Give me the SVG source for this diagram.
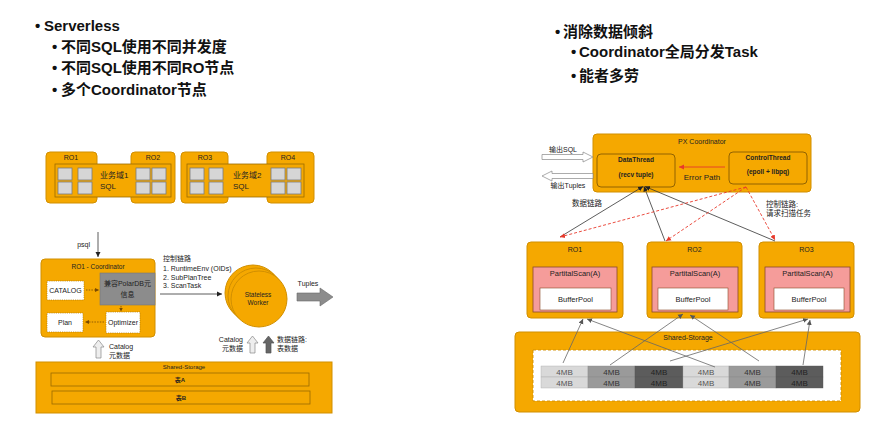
<svg xmlns="http://www.w3.org/2000/svg" width="880" height="439" viewBox="0 0 880 439">
<defs>
<style>
.t{font-family:"Liberation Sans","Noto Sans CJK SC",sans-serif;fill:#222}
.h{font-family:"Liberation Sans","Noto Sans CJK SC",sans-serif;font-weight:bold;font-size:15px;fill:#111}
.org{fill:#F5A800;stroke:#D18F00;stroke-width:1}
.band{fill:#F5A800;stroke:#9A6A00;stroke-width:0.8}
.sq{fill:#d6d6d6;stroke:#7a7a7a;stroke-width:0.8}
.wbox{fill:#fff;stroke:#b07a00;stroke-width:0.7;stroke-dasharray:1.2,1}
.dot{stroke:#7a4a00;stroke-width:0.8;stroke-dasharray:1.5,1.2;fill:none}
.blk{stroke:#333;stroke-width:0.8;fill:none}
.red{stroke:#e8392b;stroke-width:0.9;stroke-dasharray:3,2;fill:none}
.gry{stroke:#666;stroke-width:0.8;fill:none}
.pink{fill:#F59C9A;stroke:#8a4a2a;stroke-width:0.8}
.bp{fill:#fff;stroke:#8a4a2a;stroke-width:0.6}
.c{text-anchor:middle}
</style>
<marker id="ab" markerWidth="6" markerHeight="6" refX="5" refY="3" orient="auto" markerUnits="userSpaceOnUse"><path d="M0,0.5 L5,3 L0,5.5 z" fill="#222"/></marker>
<marker id="ad" markerWidth="5" markerHeight="5" refX="4" refY="2.5" orient="auto" markerUnits="userSpaceOnUse"><path d="M0,0.5 L4,2.5 L0,4.5 z" fill="#7a4a00"/></marker>
<marker id="ar" markerWidth="6" markerHeight="6" refX="5" refY="3" orient="auto" markerUnits="userSpaceOnUse"><path d="M0,0.5 L5,3 L0,5.5 z" fill="#e8392b"/></marker>
<marker id="ag" markerWidth="6" markerHeight="6" refX="5" refY="3" orient="auto" markerUnits="userSpaceOnUse"><path d="M0,0.5 L5,3 L0,5.5 z" fill="#555"/></marker>
</defs>
<rect width="880" height="439" fill="#fff"/>

<!-- Titles -->
<g id="title-left">
<text class="h"><tspan x="35" y="31">•</tspan><tspan x="44" y="31">Serverless</tspan></text>
<text class="h"><tspan x="52" y="52">•</tspan><tspan x="61" y="52">不同SQL使用不同并发度</tspan></text>
<text class="h"><tspan x="52" y="73">•</tspan><tspan x="61" y="73">不同SQL使用不同RO节点</tspan></text>
<text class="h"><tspan x="52" y="95">•</tspan><tspan x="61" y="95">多个Coordinator节点</tspan></text>
</g>
<g id="title-right">
<text class="h"><tspan x="555" y="37">•</tspan><tspan x="563" y="37">消除数据倾斜</tspan></text>
<text class="h"><tspan x="571" y="57">•</tspan><tspan x="579" y="57">Coordinator全局分发Task</tspan></text>
<text class="h"><tspan x="571" y="81">•</tspan><tspan x="579" y="81">能者多劳</tspan></text>
</g>

<!-- Left: RO domains -->
<g id="domain1">
<rect class="org" x="46" y="152" width="51" height="51" rx="4"/>
<rect class="org" x="131" y="152" width="44" height="51" rx="4"/>
<rect class="band" x="55" y="164" width="116" height="33"/>
<text class="t c" x="71" y="159.5" font-size="7">RO1</text>
<text class="t c" x="153" y="159.5" font-size="7">RO2</text>
<rect class="sq" x="58" y="168" width="14" height="12"/><rect class="sq" x="78" y="168" width="14" height="12"/>
<rect class="sq" x="58" y="182" width="14" height="12"/><rect class="sq" x="78" y="182" width="14" height="12"/>
<rect class="sq" x="136" y="168" width="14" height="12"/><rect class="sq" x="152" y="168" width="14" height="12"/>
<rect class="sq" x="136" y="182" width="14" height="12"/><rect class="sq" x="152" y="182" width="14" height="12"/>
<text class="t" x="100" y="178" font-size="8">业务域1</text>
<text class="t" x="100" y="189" font-size="8">SQL</text>
</g>
<g id="domain2">
<rect class="org" x="181" y="152" width="47" height="51" rx="4"/>
<rect class="org" x="267" y="152" width="47" height="51" rx="4"/>
<rect class="band" x="187" y="164" width="117" height="33"/>
<text class="t c" x="205" y="159.5" font-size="7">RO3</text>
<text class="t c" x="288" y="159.5" font-size="7">RO4</text>
<rect class="sq" x="190" y="168" width="14" height="12"/><rect class="sq" x="209" y="168" width="14" height="12"/>
<rect class="sq" x="190" y="182" width="14" height="12"/><rect class="sq" x="209" y="182" width="14" height="12"/>
<rect class="sq" x="271" y="168" width="14" height="12"/><rect class="sq" x="287" y="168" width="14" height="12"/>
<rect class="sq" x="271" y="182" width="14" height="12"/><rect class="sq" x="287" y="182" width="14" height="12"/>
<text class="t" x="233" y="178" font-size="8">业务域2</text>
<text class="t" x="233" y="189" font-size="8">SQL</text>
</g>

<!-- Left: coordinator -->
<g id="ro1-coordinator">
<rect class="org" x="41" y="259" width="114" height="78" rx="4"/>
<text class="t c" x="98" y="268.5" font-size="6.5" fill="#5a2a00">RO1 - Coordinator</text>
<rect class="wbox" x="47" y="281" width="37" height="19"/>
<text class="t c" x="65.5" y="293" font-size="7">CATALOG</text>
<rect x="100" y="273" width="55" height="32" fill="#8c8c8c" stroke="#777" stroke-width="0.6"/>
<text class="t c" x="127.5" y="286" font-size="7">兼容PolarDB元</text>
<text class="t c" x="127.5" y="297" font-size="7">信息</text>
<rect class="wbox" x="106" y="312" width="34" height="21"/>
<text class="t c" x="123" y="325" font-size="7">Optimizer</text>
<rect class="wbox" x="47" y="313" width="36" height="19"/>
<text class="t c" x="65" y="325" font-size="7">Plan</text>
<line class="dot" x1="86" y1="290" x2="99" y2="290" marker-end="url(#ad)"/>
<line class="dot" x1="121" y1="306" x2="121" y2="311.5" marker-end="url(#ad)"/>
<line class="dot" x1="104" y1="322" x2="85" y2="322" marker-end="url(#ad)"/>
</g>

<g id="stateless-worker">
<circle cx="253" cy="293" r="28" class="org" stroke="#C88800"/>
<circle cx="256" cy="296" r="28" class="org" stroke="#C88800"/>
<circle cx="259" cy="299" r="28" class="org" stroke="#C88800"/>
<text class="t c" x="258" y="297" font-size="6.5" fill="#333">Stateless</text>
<text class="t c" x="258" y="305" font-size="6.5" fill="#333">Worker</text>
</g>

<g id="shared-storage-left">
<rect class="org" x="36" y="362" width="296" height="51"/>
<text class="t c" x="184" y="369" font-size="6">Shared-Storage</text>
<rect class="band" x="51" y="373" width="258" height="13"/>
<text class="t c" x="180" y="382" font-size="6" font-weight="bold">表A</text>
<rect class="band" x="52" y="391" width="258" height="13"/>
<text class="t c" x="181" y="400" font-size="6" font-weight="bold">表B</text>
</g>

<!-- Left connectors -->
<g id="left-connectors">
<line class="blk" x1="98" y1="232" x2="98" y2="257" stroke-width="1" marker-end="url(#ab)"/>
<text class="t" x="90" y="246.5" font-size="7" text-anchor="end">psql</text>
<line class="blk" x1="160" y1="294" x2="222" y2="294" stroke-width="1" marker-end="url(#ab)"/>
<text class="t" x="163" y="260.5" font-size="7">控制链路</text>
<text class="t" x="163" y="270.5" font-size="7">1.  RuntimeEnv (OIDs)</text>
<text class="t" x="163" y="279.5" font-size="7">2.  SubPlanTree</text>
<text class="t" x="163" y="287.5" font-size="7">3.  ScanTask</text>
<path d="M297,293 L320,293 L320,288 L333,297 L320,306 L320,301 L297,301 z" fill="#8c8c8c" stroke="#6a6a6a" stroke-width="0.6"/>
<text class="t c" x="308" y="286" font-size="7">Tuples</text>
<path d="M96,358 L96,347 L93,347 L98.5,340 L104,347 L101,347 L101,358 z" fill="#eee" stroke="#888" stroke-width="0.7"/>
<text class="t" x="109" y="349" font-size="7">Catalog</text>
<text class="t" x="109" y="357.5" font-size="7">元数据</text>
<path d="M250,353 L250,343 L247,343 L252.5,336 L258,343 L255,343 L255,353 z" fill="#eee" stroke="#888" stroke-width="0.7"/>
<path d="M266,353 L266,343 L263,343 L268.5,336 L274,343 L271,343 L271,353 z" fill="#666" stroke="#555" stroke-width="0.7"/>
<text class="t" x="243" y="341.5" font-size="7" text-anchor="end">Catalog</text>
<text class="t" x="243" y="350.5" font-size="7" text-anchor="end">元数据</text>
<text class="t" x="277" y="341.5" font-size="7">数据链路:</text>
<text class="t" x="277" y="350.5" font-size="7">表数据</text>
</g>

<!-- Right: PX coordinator -->
<g id="px-coordinator">
<rect class="org" x="593" y="134" width="218" height="58" rx="4"/>
<text class="t c" x="702" y="143.5" font-size="7">PX Coordinator</text>
</g>
<g id="data-thread">
<rect x="597" y="154" width="78" height="33" rx="4" fill="#F5A800" stroke="#7a5200" stroke-width="0.8"/>
<text class="t c" x="636" y="162" font-size="6.5" font-weight="bold">DataThread</text>
<text class="t c" x="636" y="177" font-size="6.5" font-weight="bold">(recv tuple)</text>
</g>
<g id="control-thread">
<rect x="729" y="152" width="78" height="32" rx="4" fill="#F5A800" stroke="#7a5200" stroke-width="0.8"/>
<text class="t c" x="768" y="159.5" font-size="6.5" font-weight="bold">ControlThread</text>
<text class="t c" x="768" y="174" font-size="6.5" font-weight="bold">(epoll + libpq)</text>
</g>

<g id="ro-r1">
<rect class="org" x="527" y="242" width="96" height="76" rx="4"/>
<text class="t c" x="575" y="251.5" font-size="7">RO1</text>
<rect class="pink" x="533" y="267" width="84" height="45"/>
<text class="t c" x="575" y="276" font-size="7.5">PartitalScan(A)</text>
<rect class="bp" x="540" y="288" width="71" height="22"/>
<text class="t c" x="575.5" y="301.5" font-size="7.5">BufferPool</text>
</g>
<g id="ro-r2">
<rect class="org" x="647" y="242" width="95" height="76" rx="4"/>
<text class="t c" x="694.5" y="251.5" font-size="7">RO2</text>
<rect class="pink" x="652" y="267" width="86" height="45"/>
<text class="t c" x="695" y="276" font-size="7.5">PartitalScan(A)</text>
<rect class="bp" x="658" y="288" width="70" height="22"/>
<text class="t c" x="693" y="301.5" font-size="7.5">BufferPool</text>
</g>
<g id="ro-r3">
<rect class="org" x="759" y="242" width="95" height="76" rx="4"/>
<text class="t c" x="806.5" y="251.5" font-size="7">RO3</text>
<rect class="pink" x="765" y="267" width="85" height="45"/>
<text class="t c" x="807.5" y="276" font-size="7.5">PartitalScan(A)</text>
<rect class="bp" x="774" y="288" width="70" height="22"/>
<text class="t c" x="809" y="301.5" font-size="7.5">BufferPool</text>
</g>

<g id="shared-storage-right">
<rect class="org" x="515" y="332" width="345" height="80" rx="4"/>
<text class="t c" x="688" y="339.5" font-size="7">Shared-Storage</text>
<rect x="533" y="350" width="308" height="51" fill="#fff" stroke="#D18F00" stroke-width="0.9" stroke-dasharray="3,2"/>
<g font-size="8" class="t">
<rect x="541" y="366" width="47" height="11" fill="#d9d9d9" stroke="#aaa" stroke-width="0.4"/>
<rect x="588" y="366" width="47" height="11" fill="#9a9a9a" stroke="#888" stroke-width="0.4"/>
<rect x="635" y="366" width="48" height="11" fill="#5c5c5c" stroke="#555" stroke-width="0.4"/>
<rect x="683" y="366" width="46" height="11" fill="#d9d9d9" stroke="#aaa" stroke-width="0.4"/>
<rect x="729" y="366" width="47" height="11" fill="#9a9a9a" stroke="#888" stroke-width="0.4"/>
<rect x="776" y="366" width="47" height="11" fill="#5c5c5c" stroke="#555" stroke-width="0.4"/>
<rect x="541" y="377" width="47" height="11" fill="#d9d9d9" stroke="#aaa" stroke-width="0.4"/>
<rect x="588" y="377" width="47" height="11" fill="#9a9a9a" stroke="#888" stroke-width="0.4"/>
<rect x="635" y="377" width="48" height="11" fill="#5c5c5c" stroke="#555" stroke-width="0.4"/>
<rect x="683" y="377" width="46" height="11" fill="#d9d9d9" stroke="#aaa" stroke-width="0.4"/>
<rect x="729" y="377" width="47" height="11" fill="#9a9a9a" stroke="#888" stroke-width="0.4"/>
<rect x="776" y="377" width="47" height="11" fill="#5c5c5c" stroke="#555" stroke-width="0.4"/>
<text class="c" x="564.5" y="374.5" fill="#555">4MB</text><text class="c" x="611.5" y="374.5" fill="#333">4MB</text><text class="c" x="659" y="374.5" fill="#222">4MB</text>
<text class="c" x="706" y="374.5" fill="#555">4MB</text><text class="c" x="752.5" y="374.5" fill="#333">4MB</text><text class="c" x="799.5" y="374.5" fill="#222">4MB</text>
<text class="c" x="564.5" y="385.5" fill="#555">4MB</text><text class="c" x="611.5" y="385.5" fill="#333">4MB</text><text class="c" x="659" y="385.5" fill="#222">4MB</text>
<text class="c" x="706" y="385.5" fill="#555">4MB</text><text class="c" x="752.5" y="385.5" fill="#333">4MB</text><text class="c" x="799.5" y="385.5" fill="#222">4MB</text>
</g>
</g>

<!-- Right connectors -->
<g id="right-connectors">
<path d="M542,154.5 L583,154.5 L583,152 L593,157 L583,162 L583,159.5 L542,159.5 z" fill="#fff" stroke="#888" stroke-width="0.7"/>
<text class="t c" x="563" y="152" font-size="7">输出SQL</text>
<path d="M593,173.5 L552,173.5 L552,171 L542,176 L552,181 L552,178.5 L593,178.5 z" fill="#fff" stroke="#888" stroke-width="0.7"/>
<text class="t c" x="568" y="187.5" font-size="7">输出Tuples</text>
<line x1="725" y1="167" x2="679" y2="167" stroke="#e8392b" stroke-width="0.9" marker-end="url(#ar)"/>
<text class="t c" x="702" y="180" font-size="8" fill="#e8392b">Error Path</text>
<text class="t" x="572" y="205.5" font-size="7.5">数据链路</text>
<text class="t" x="766" y="206.5" font-size="7.5" fill="#e8392b">控制链路:</text>
<text class="t" x="766" y="215.5" font-size="7.5" fill="#e8392b">请求扫描任务</text>
<line class="blk" x1="560" y1="237" x2="643" y2="186.5" marker-end="url(#ab)"/>
<line class="blk" x1="665" y1="241" x2="644" y2="186.5" marker-end="url(#ab)"/>
<line class="blk" x1="775" y1="241" x2="645" y2="186.5" marker-end="url(#ab)"/>
<line class="red" x1="746" y1="187" x2="560" y2="237" marker-end="url(#ar)"/>
<line class="red" x1="746" y1="187" x2="666" y2="241" marker-end="url(#ar)"/>
<line class="red" x1="746" y1="187" x2="775" y2="240" marker-end="url(#ar)"/>
<line class="gry" x1="563" y1="363" x2="583" y2="319" marker-end="url(#ag)"/>
<line class="gry" x1="610" y1="365" x2="683" y2="314" marker-end="url(#ag)"/>
<line class="gry" x1="715" y1="367" x2="587" y2="319" marker-end="url(#ag)"/>
<line class="gry" x1="759" y1="361" x2="690" y2="315" marker-end="url(#ag)"/>
<line class="gry" x1="670" y1="361" x2="808" y2="319" marker-end="url(#ag)"/>
<line class="gry" x1="803" y1="365" x2="810" y2="320" marker-end="url(#ag)"/>
</g>
</svg>
